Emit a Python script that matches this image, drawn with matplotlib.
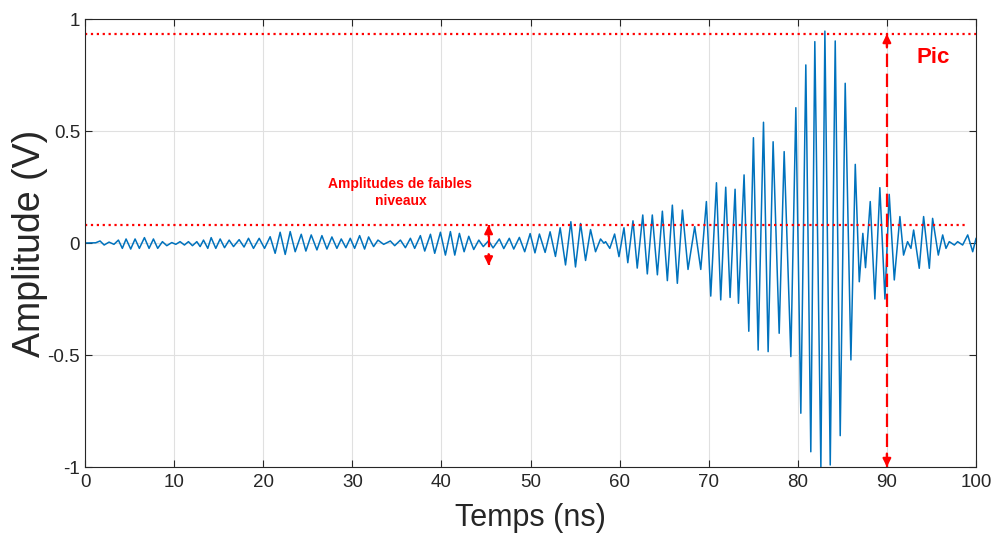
import matplotlib.pyplot as plt

# extrema of the received signal (time in ns, amplitude in V)
ext_t = [0.0, 1.2, 1.69, 2.15, 2.7, 3.25, 3.75, 4.19, 4.61, 5.13, 5.62, 6.1, 6.67, 7.19, 7.68, 8.16,
         8.69, 9.18, 9.74, 10.19, 10.67, 11.16, 11.61, 12.06, 12.55, 12.92, 13.3, 13.78, 14.16, 14.68,
         15.17, 15.66, 16.18, 16.67, 17.3, 17.85, 18.35, 18.91, 19.55, 20.15, 20.78, 21.34, 21.9, 22.47,
         23.03, 23.59, 24.27, 24.79, 25.39, 26.03, 26.59, 27.15, 27.71, 28.27, 28.76, 29.28, 29.77, 30.26,
         30.82, 31.38, 31.83, 32.39, 32.88, 33.52, 34.27, 34.76, 35.4, 35.96, 36.52, 37.0, 37.64, 38.13,
         38.77, 39.25, 39.89, 40.45, 41.01, 41.5, 42.02, 42.55, 43.07, 43.63, 44.2, 44.7, 45.3, 45.8,
         46.5, 47.0, 47.62, 48.12, 48.75, 49.35, 49.96, 50.5, 51.0, 51.64, 52.2, 52.8, 53.33, 53.93,
         54.53, 55.05, 55.62, 56.18, 56.74, 57.3, 57.86, 58.24, 58.43, 58.9, 59.44, 59.93, 60.49, 60.92,
         61.5, 61.98, 62.6, 63.11, 63.67, 64.24, 64.8, 65.36, 65.92, 66.48, 67.05, 67.68, 68.43, 69.11,
         69.74, 70.23, 70.87, 71.35, 71.91, 72.4, 72.96, 73.34, 73.97, 74.5, 75.02, 75.55, 76.15, 76.67,
         77.23, 77.91, 78.47, 79.22, 79.78, 80.34, 80.9, 81.46, 81.91, 82.59, 83.04, 83.64, 84.2, 84.76,
         85.32, 85.96, 86.45, 86.9, 87.3, 87.6, 88.13, 88.65, 89.21, 89.78, 90.26, 90.83, 91.46, 91.87,
         92.32, 92.7, 93.0, 93.63, 94.12, 94.76, 95.13, 95.77, 96.26, 96.63, 97.0, 97.57, 97.94, 98.5,
         99.07, 99.63, 100.0]
ext_v = [0.0, 0.001, 0.009, -0.009, 0.004, -0.006, 0.013, -0.024, 0.018, -0.027, 0.018, -0.024, 0.024, -0.024, 0.018, -0.024,
         0.006, -0.012, 0.002, -0.006, 0.006, -0.009, 0.006, -0.012, 0.006, -0.016, 0.013, -0.024, 0.024, -0.024,
         0.018, -0.021, 0.013, -0.016, 0.015, -0.018, 0.021, -0.024, 0.021, -0.024, 0.028, -0.046, 0.048, -0.051,
         0.051, -0.039, 0.039, -0.036, 0.036, -0.031, 0.033, -0.027, 0.027, -0.024, 0.018, -0.021, 0.021, -0.024,
         0.033, -0.027, 0.027, -0.016, 0.013, -0.006, 0.009, -0.012, 0.013, -0.021, 0.021, -0.024, 0.033, -0.036,
         0.039, -0.046, 0.048, -0.054, 0.051, -0.054, 0.043, -0.039, 0.030, -0.029, 0.013, -0.016, 0.010, -0.022,
         0.018, -0.025, 0.021, -0.027, 0.025, -0.039, 0.042, -0.044, 0.040, -0.042, 0.050, -0.060, 0.068, -0.098,
         0.095, -0.107, 0.087, -0.078, 0.060, -0.039, 0.018, -0.001, 0.006, -0.024, 0.040, -0.061, 0.068, -0.088,
         0.099, -0.112, 0.125, -0.138, 0.125, -0.142, 0.142, -0.168, 0.169, -0.180, 0.147, -0.118, 0.073, -0.118,
         0.185, -0.237, 0.269, -0.254, 0.249, -0.243, 0.240, -0.269, 0.304, -0.394, 0.470, -0.478, 0.539, -0.485,
         0.452, -0.403, 0.408, -0.507, 0.604, -0.760, 0.795, -0.932, 0.899, -1.0, 0.946, -0.991, 0.902, -0.860,
         0.713, -0.522, 0.351, -0.173, 0.043, -0.110, 0.185, -0.250, 0.247, -0.250, 0.217, -0.165, 0.118, -0.054,
         0.006, -0.024, 0.058, -0.113, 0.118, -0.113, 0.110, -0.054, 0.036, -0.024, 0.006, -0.009, 0.006, -0.009,
         0.036, -0.039, 0.020]

pic_level = 0.933   # upper dotted line (peak)
low_level = 0.08    # lower dotted line (low amplitudes)
low_end   = 99.0
pic_x     = 90
low_x     = 45.3
low_bottom = -0.1

red  = '#ff0000'
blue = '#0072bd'
plt.rcParams['font.family'] = ['Liberation Sans', 'DejaVu Sans']

fig = plt.figure(figsize=(9.97, 5.36), dpi=100)
ax = fig.add_axes([85/997, 1 - 467/536, (976-85)/997, (467-19)/536])

ax.plot(ext_t, ext_v, color=blue, lw=1.1, solid_joinstyle='round')

ax.plot([0, 100], [pic_level, pic_level], ':', color=red, lw=1.6)
ax.plot([0, low_end], [low_level, low_level], ':', color=red, lw=1.6)

# peak arrow
ax.plot([pic_x, pic_x], [-1, pic_level], '--', color=red, lw=1.6, dashes=(6, 3))
for tip, tail in [(pic_level, pic_level - 0.06), (-1, -0.94)]:
    ax.annotate('', xy=(pic_x, tip), xytext=(pic_x, tail),
                arrowprops=dict(arrowstyle='-|>', color=red, lw=1.6, mutation_scale=12,
                                shrinkA=0, shrinkB=0))
# low amplitude arrow
ax.plot([low_x, low_x], [low_bottom, low_level], '--', color=red, lw=1.6, dashes=(5, 3))
for tip, tail in [(low_level, low_level - 0.05), (low_bottom, low_bottom + 0.05)]:
    ax.annotate('', xy=(low_x, tip), xytext=(low_x, tail),
                arrowprops=dict(arrowstyle='-|>', color=red, lw=1.6, mutation_scale=12,
                                shrinkA=0, shrinkB=0))

ax.text(95.2, 0.826, 'Pic', color=red, fontsize=16, fontweight='bold', ha='center', va='center')
ax.text(35.4, 0.225, 'Amplitudes de faibles\nniveaux', color=red, fontsize=10,
        fontweight='bold', ha='center', va='center', linespacing=1.3)

ax.set_xlim(0, 100)
ax.set_ylim(-1, 1)
ax.set_xticks(range(0, 101, 10))
ax.set_yticks([-1, -0.5, 0, 0.5, 1])
ax.set_yticklabels(['-1', '-0.5', '0', '0.5', '1'])
ax.grid(True, color='#e0e0e0', lw=0.8)
ax.set_axisbelow(True)
ax.tick_params(direction='in', top=True, right=True, length=5, width=0.8,
               labelsize=13.5, colors='#262626')
ax.tick_params(axis='x', pad=5)
for s in ax.spines.values():
    s.set_color('#262626')
    s.set_linewidth(0.8)
ax.set_xlabel('Temps (ns)', fontsize=22, color='#262626', labelpad=9)
ax.set_ylabel('Amplitude (V)', fontsize=27, color='#262626', labelpad=0)

fig.savefig('out.png', dpi=100)
